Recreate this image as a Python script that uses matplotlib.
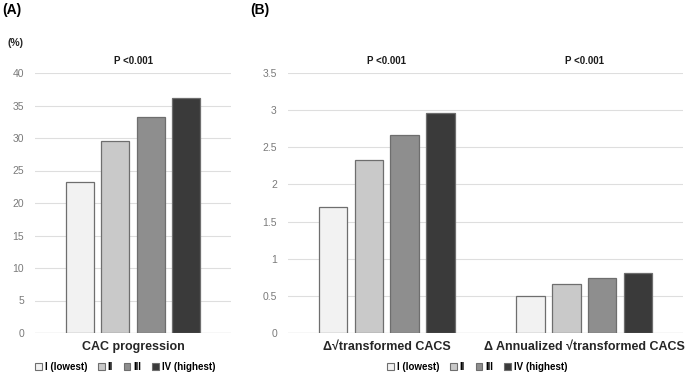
import matplotlib
matplotlib.use("Agg")
import matplotlib.pyplot as plt
import matplotlib.transforms as mt
from matplotlib.patches import Patch
import numpy as np

plt.rcParams['font.family'] = ['Liberation Sans', 'DejaVu Sans']

quartiles = ["I (lowest)", "II", "III", "IV (highest)"]
colors = ["#f2f2f2", "#c9c9c9", "#8e8e8e", "#3a3a3a"]

cat_a = ["CAC progression"]
vals_a = [[23.2], [29.5], [33.2], [36.2]]
yticks_a = [0, 5, 10, 15, 20, 25, 30, 35, 40]

cat_b = ["\u0394\u221atransformed CACS", "\u0394 Annualized \u221atransformed CACS"]
vals_b = [[1.69, 0.50], [2.33, 0.66], [2.67, 0.74], [2.96, 0.81]]
yticks_b = [0, 0.5, 1, 1.5, 2, 2.5, 3, 3.5]
ytick_labels_b = ["0", "0.5", "1", "1.5", "2", "2.5", "3", "3.5"]

pvals = "P <0.001"

W, H = 685, 374
fig = plt.figure(figsize=(W/100, H/100), dpi=100)

def px_ax(x0, x1, ytop, ybot):
    return fig.add_axes([x0/W, 1-ybot/H, (x1-x0)/W, (ybot-ytop)/H])

axA = px_ax(35, 231, 73, 333)
axB = px_ax(288, 683, 73, 333)

step = 0.181
width = 0.144

def draw(ax, cats, vals, yticks, ylabels, ymax):
    x = np.arange(len(cats))
    for i, (v, c) in enumerate(zip(vals, colors)):
        ax.bar(x + (i-1.5)*step, v, width=width, color=c, edgecolor="#6e6e6e",
               linewidth=0.9, zorder=3)
    ax.set_xlim(-0.5, len(cats)-0.5)
    ax.set_ylim(0, ymax)
    ax.set_yticks(yticks)
    ax.set_yticklabels(ylabels)
    ax.yaxis.grid(True, color="#dedede", linewidth=0.8, zorder=0)
    ax.set_axisbelow(True)
    for s in ax.spines.values():
        s.set_visible(False)
    ax.tick_params(axis='y', length=0, pad=8, labelsize=7.5, labelcolor="#7a7a7a")
    ax.set_xticks(x)
    ax.set_xticklabels(cats, fontweight='bold', fontsize=9, color="#262626")
    ax.tick_params(axis='x', length=0, pad=6)
    off = mt.ScaledTranslation(0, 7/100, fig.dpi_scale_trans)
    for xi in x:
        ax.text(xi, ymax, pvals, transform=ax.transData + off, ha='center', va='bottom',
                fontsize=7, fontweight='bold', color="#1a1a1a")
    ax.axhline(0, color="#d0d0d0", linewidth=0.9, zorder=1)

draw(axA, cat_a, vals_a, yticks_a, [str(t) for t in yticks_a], 40)
draw(axB, cat_b, vals_b, yticks_b, ytick_labels_b, 3.5)

handles = [Patch(facecolor=c, edgecolor="#6e6e6e", linewidth=0.8) for c in colors]

def add_leg(cx):
    fig.legend(handles, quartiles, loc='center', bbox_to_anchor=(cx/W, 1-367/H),
               ncol=4, frameon=False, handlelength=0.7, handleheight=0.7,
               handletextpad=0.3, columnspacing=1.1, prop={'weight': 'bold', 'size': 7})

add_leg(125)
add_leg(477)

fig.text(2/W, 1-10/H, "(A)", fontsize=10, fontweight='bold', va='center', ha='left')
fig.text(250/W, 1-10/H, "(B)", fontsize=10, fontweight='bold', va='center', ha='left')
fig.text(8/W, 1-43/H, "(%)", fontsize=7.5, fontweight='bold', va='center', ha='left', color="#262626")

fig.savefig("out.png", dpi=100)
